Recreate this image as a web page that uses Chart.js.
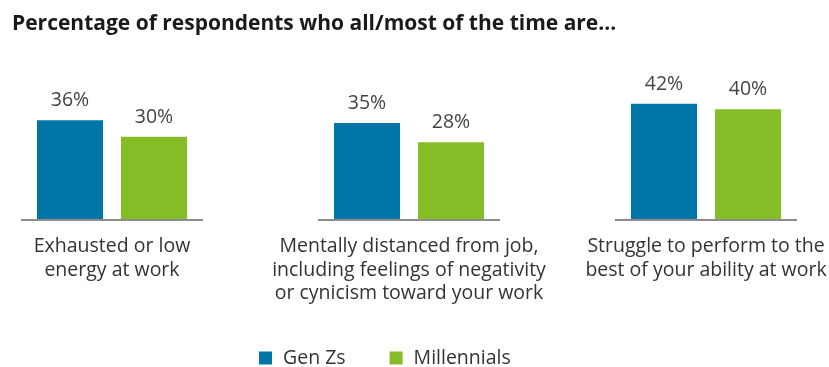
<!DOCTYPE html>
<html><head><meta charset="utf-8">
<script src="https://cdn.jsdelivr.net/npm/chart.js@4/dist/chart.umd.min.js"></script>
<style>html,body{margin:0;padding:0;background:#fff;overflow:hidden}#wrap{width:829px;height:367px;position:relative}</style>
</head><body><div id="wrap"><canvas id="c"></canvas></div>
<script>
const titleText = "Percentage of respondents who all/most of the time are...";
const categories = [
  ["Exhausted or low", "energy at work"],
  ["Mentally distanced from job,", "including feelings of negativity", "or cynicism toward your work"],
  ["Struggle to perform to the", "best of your ability at work"]
];
const seriesNames = ["Gen Zs", "Millennials"];
const genZs = [36, 35, 42];
const millennials = [30, 28, 40];
const seriesColors = ["#0076A8", "#86BC25"];

const FONT = "'Open Sans', 'Noto Sans', sans-serif";
const seriesValues = [genZs, millennials];

const decor = {
  id: 'decor',
  afterDatasetsDraw(chart) {
    const {ctx, scales: {x, y}} = chart;
    ctx.save();
    ctx.strokeStyle = '#8c8c8c';
    ctx.lineWidth = 2;
    const y0 = y.getPixelForValue(0) + 1;
    categories.forEach((_, i) => {
      ctx.beginPath();
      ctx.moveTo(x.getPixelForValue(i - 0.3064), y0);
      ctx.lineTo(x.getPixelForValue(i + 0.3064), y0);
      ctx.stroke();
    });
    ctx.fillStyle = '#444444';
    ctx.font = "19.5px " + FONT;
    ctx.textAlign = 'center';
    ctx.textBaseline = 'alphabetic';
    chart.data.datasets.forEach((ds, di) => {
      chart.getDatasetMeta(di).data.forEach((bar, i) => {
        ctx.fillText(ds.data[i].y + '%', bar.x, bar.y - 14);
      });
    });
    ctx.restore();
  },
  afterDraw(chart) {
    const ctx = chart.ctx;
    ctx.save();
    ctx.font = "19.5px " + FONT;
    ctx.textBaseline = 'middle';
    ctx.textAlign = 'left';
    let lx = 259;
    const ly = 358;
    chart.data.datasets.forEach(ds => {
      ctx.fillStyle = ds.backgroundColor;
      ctx.fillRect(lx, ly - 6.5, 13, 13);
      ctx.fillStyle = '#333333';
      ctx.fillText(ds.label, lx + 24, ly);
      lx += 24 + ctx.measureText(ds.label).width + 44;
    });
    ctx.restore();
  }
};

new Chart(document.getElementById('c'), {
  type: 'bar',
  data: {
    datasets: seriesNames.map((name, s) => ({
      label: name,
      data: seriesValues[s].map((v, i) => ({x: i, y: v})),
      backgroundColor: seriesColors[s],
      borderWidth: 0,
      categoryPercentage: 0.5657,
      barPercentage: 0.7857
    }))
  },
  options: {
    responsive: true,
    maintainAspectRatio: false,
    animation: false,
    layout: {padding: {top: 11, left: 12, right: 0, bottom: 45.5}},
    plugins: {
      legend: {display: false},
      tooltip: {enabled: false},
      title: {
        display: true,
        text: titleText,
        align: 'start',
        color: '#1a1a1a',
        font: {family: FONT, size: 21, weight: 'bold', lineHeight: 1.2},
        padding: {top: 0, bottom: 18.2}
      }
    },
    scales: {
      x: {
        type: 'linear',
        min: -0.3367,
        max: 2.4141,
        offset: false,
        bounds: 'data',
        grid: {display: false, drawTicks: false, offset: false},
        border: {display: false},
        afterBuildTicks(scale) { scale.ticks = categories.map((_, i) => ({value: i})); },
        afterFit(scale) { scale.paddingLeft = 0; scale.paddingRight = 0; },
        ticks: {
          autoSkip: false,
          includeBounds: false,
          maxRotation: 0,
          minRotation: 0,
          padding: 16,
          color: '#333333',
          font: {family: FONT, size: 19.5, lineHeight: 1.205},
          callback: (v) => categories[v]
        }
      },
      y: {
        display: false,
        min: 0,
        max: 60
      }
    }
  },
  plugins: [decor]
});
</script>
</body></html>
